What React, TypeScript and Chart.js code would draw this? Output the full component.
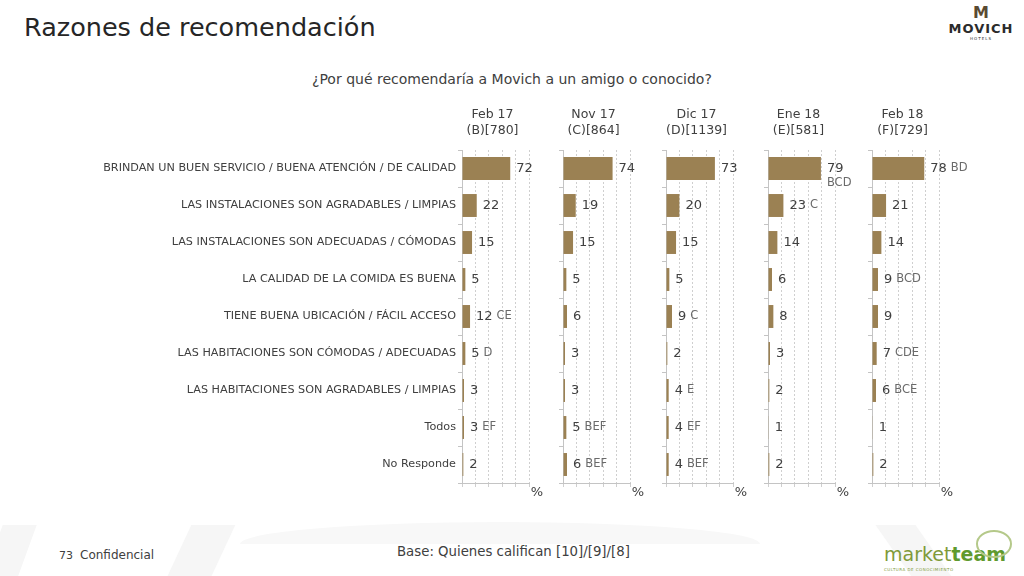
import React, { useEffect, useRef } from "react";
import { Chart, registerables } from "chart.js";

Chart.register(...registerables);

const categories = [
  "BRINDAN UN BUEN SERVICIO / BUENA ATENCIÓN / DE CALIDAD",
  "LAS INSTALACIONES SON AGRADABLES / LIMPIAS",
  "LAS INSTALACIONES SON ADECUADAS / CÓMODAS",
  "LA CALIDAD DE LA COMIDA ES BUENA",
  "TIENE BUENA UBICACIÓN / FÁCIL ACCESO",
  "LAS HABITACIONES SON CÓMODAS / ADECUADAS",
  "LAS HABITACIONES SON AGRADABLES / LIMPIAS",
  "Todos",
  "No Responde",
];

const periods = ["Feb 17", "Nov 17", "Dic 17", "Ene 18", "Feb 18"];
const bases = ["(B)[780]", "(C)[864]", "(D)[1139]", "(E)[581]", "(F)[729]"];

const feb17Values = [72, 22, 15, 5, 12, 5, 3, 3, 2];
const nov17Values = [74, 19, 15, 5, 6, 3, 3, 5, 6];
const dic17Values = [73, 20, 15, 5, 9, 2, 4, 4, 4];
const ene18Values = [79, 23, 14, 6, 8, 3, 2, 1, 2];
const feb18Values = [78, 21, 14, 9, 9, 7, 6, 1, 2];

const feb17Sig = ["", "", "", "", "CE", "D", "", "EF", ""];
const nov17Sig = ["", "", "", "", "", "", "", "BEF", "BEF"];
const dic17Sig = ["", "", "", "", "C", "", "E", "EF", "BEF"];
const ene18Sig = ["\nBCD", "C", "", "", "", "", "", "", ""];
const feb18Sig = ["BD", "", "", "BCD", "", "CDE", "BCE", "", ""];

const xTicks = [0, 20, 40, 60, 80, 100];
const unitLabel = "%";

const seriesValues = [feb17Values, nov17Values, dic17Values, ene18Values, feb18Values];
const seriesSig = [feb17Sig, nov17Sig, dic17Sig, ene18Sig, feb18Sig];

const FONT = "'DejaVu Sans', sans-serif";
const BAR_COLOR = "#9B8153";
const PANEL_LEFTS = [462, 563, 666, 768, 872];
const PLOT_W = 67;
const RIGHT_PAD = 40;
const CANVAS_TOP = 100;
const CANVAS_H = 400;

function Panel({ idx }: { idx: number }) {
  const ref = useRef<HTMLCanvasElement | null>(null);
  const showLabels = idx === 0;
  const yWidth = showLabels ? 372 : 10;
  const left = PANEL_LEFTS[idx] - yWidth;
  const width = yWidth + PLOT_W + RIGHT_PAD;

  useEffect(() => {
    if (!ref.current) return;
    const values = seriesValues[idx];
    const sigs = seriesSig[idx];
    const textPlugin = {
      id: "panelText",
      afterDatasetsDraw(chart: any) {
        const { ctx, chartArea } = chart;
        const meta = chart.getDatasetMeta(0);
        ctx.save();
        ctx.textBaseline = "middle";
        ctx.textAlign = "left";
        meta.data.forEach((bar: any, i: number) => {
          const x = bar.x + 6;
          const y = bar.y;
          const num = String(values[i]);
          ctx.font = `13px ${FONT}`;
          ctx.fillStyle = "#404040";
          ctx.fillText(num, x, y);
          const w = ctx.measureText(num).width;
          const s = sigs[i];
          if (s) {
            ctx.font = `11.5px ${FONT}`;
            ctx.fillStyle = "#6a6a6a";
            if (s.startsWith("\n")) {
              ctx.fillText(s.slice(1), x, y + 15);
            } else {
              ctx.fillText(s, x + w + 4, y);
            }
          }
        });
        // headers
        const cx = (chartArea.left + chartArea.right) / 2 - 3;
        ctx.textAlign = "center";
        ctx.fillStyle = "#404040";
        ctx.font = `12.5px ${FONT}`;
        ctx.fillText(periods[idx], cx, 115 - CANVAS_TOP);
        ctx.fillText(bases[idx], cx, 131 - CANVAS_TOP);
        // unit
        ctx.font = `13px ${FONT}`;
        ctx.fillText(unitLabel, chartArea.right + 8, chartArea.bottom + 10);
        ctx.restore();
      },
    };

    const chart = new Chart(ref.current, {
      type: "bar",
      data: {
        labels: categories,
        datasets: [
          {
            data: values,
            backgroundColor: BAR_COLOR,
            borderWidth: 0,
            barPercentage: 0.62,
            categoryPercentage: 1,
          },
        ],
      },
      options: {
        indexAxis: "y",
        animation: false,
        responsive: true,
        maintainAspectRatio: false,
        layout: { padding: { top: 50, bottom: 13, left: 0, right: RIGHT_PAD } },
        plugins: {
          legend: { display: false },
          tooltip: { enabled: false },
        },
        scales: {
          x: {
            min: xTicks[0],
            max: xTicks[xTicks.length - 1],
            afterBuildTicks: (scale: any) => {
              scale.ticks = xTicks.map((v) => ({ value: v }));
            },
            ticks: { display: false },
            grid: {
              color: "#cfcfcf",
              lineWidth: 1,
              drawTicks: true,
              tickLength: 4,
            },
            border: { display: true, color: "#c4c4c4", dash: [2, 2] },
          },
          y: {
            afterFit: (scale: any) => {
              scale.width = yWidth;
            },
            ticks: {
              display: showLabels,
              padding: 2,
              color: "#404040",
              font: { family: FONT, size: 11.2 },
              autoSkip: false,
            },
            grid: {
              offset: true,
              drawOnChartArea: false,
              drawTicks: true,
              tickLength: 4,
              color: "#c4c4c4",
            },
            border: { display: true, color: "#c4c4c4" },
          },
        },
      },
      plugins: [textPlugin],
    } as any);
    return () => chart.destroy();
  }, [idx]);

  return (
    <div
      style={{
        position: "absolute",
        left,
        top: CANVAS_TOP,
        width,
        height: CANVAS_H,
      }}
    >
      <canvas ref={ref} />
    </div>
  );
}

export default function App() {
  return (
    <div
      style={{
        position: "absolute",
        left: 0,
        top: 0,
        width: 1024,
        height: 576,
        overflow: "hidden",
        background: "#ffffff",
        fontFamily: FONT,
      }}
    >
      {/* background swooshes */}
      <div style={{ position: "absolute", left: -10, top: 525, width: 34, height: 70, background: "#f6f6f6", transform: "skewX(-20deg)" }} />
      <div style={{ position: "absolute", left: 175, top: 525, width: 44, height: 70, background: "#f6f6f6", transform: "skewX(-25deg)" }} />
      <div style={{ position: "absolute", left: 240, top: 522, width: 520, height: 22, background: "#f8f8f8", borderRadius: "50% 50% 0 0 / 100% 100% 0 0" }} />
      <div style={{ position: "absolute", left: 900, top: 525, width: 40, height: 70, background: "#f6f6f6", transform: "skewX(35deg)" }} />

      <div style={{ position: "absolute", left: 24, top: 12, fontSize: 25.5, color: "#262626", whiteSpace: "nowrap" }}>
        Razones de recomendación
      </div>
      <div style={{ position: "absolute", left: 312, top: 71, fontSize: 14, color: "#404040", whiteSpace: "nowrap" }}>
        ¿Por qué recomendaría a Movich a un amigo o conocido?
      </div>

      {periods.map((_, i) => (
        <Panel key={i} idx={i} />
      ))}

      <div style={{ position: "absolute", left: 59, top: 549, fontSize: 11, color: "#404040" }}>73</div>
      <div style={{ position: "absolute", left: 80, top: 548, fontSize: 12, color: "#404040" }}>Confidencial</div>
      <div style={{ position: "absolute", left: 397, top: 544, fontSize: 13.3, color: "#404040", whiteSpace: "nowrap" }}>
        Base: Quienes califican [10]/[9]/[8]
      </div>

      {/* MOVICH logo */}
      <div style={{ position: "absolute", left: 940, top: 4, width: 82, textAlign: "center", color: "#2b2b2b" }}>
        <div style={{ fontSize: 16, fontWeight: "bold", lineHeight: "18px", color: "#5a4a32" }}>M</div>
        <div style={{ fontSize: 13, fontWeight: "bold", letterSpacing: 1, lineHeight: "14px" }}>MOVICH</div>
        <div style={{ fontSize: 4, letterSpacing: 1, lineHeight: "6px" }}>HOTELS</div>
      </div>

      {/* marketteam logo */}
      <div style={{ position: "absolute", left: 884, top: 543, whiteSpace: "nowrap", lineHeight: "22px" }}>
        <span style={{ fontSize: 19, color: "#7f9a3a" }}>market</span>
        <span style={{ fontSize: 19, color: "#5f9a2e", fontWeight: "bold" }}>team</span>
        <div style={{ fontSize: 4, color: "#7f9a3a", letterSpacing: 0.5, lineHeight: "5px" }}>CULTURA DE CONOCIMIENTO</div>
      </div>
      <div style={{ position: "absolute", left: 976, top: 530, width: 32, height: 24, border: "2px solid #b5c98a", borderRadius: "50%" }} />
    </div>
  );
}
